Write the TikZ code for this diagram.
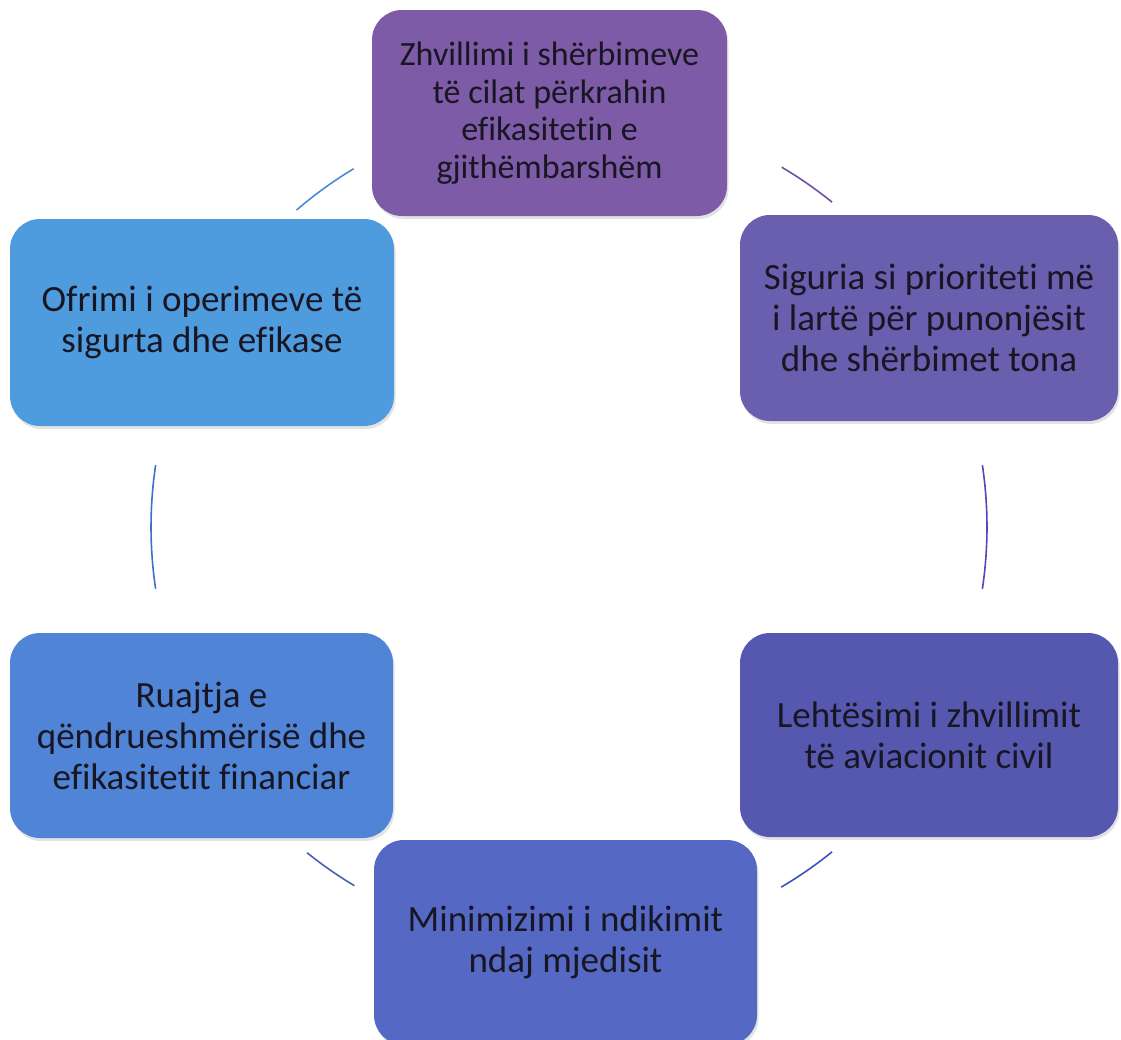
\documentclass[tikz,border=0pt]{standalone}
\usepackage{fontspec}
\setmainfont{Carlito}[Ligatures=NoCommon]
\usetikzlibrary{shadows}
\definecolor{cTop}{RGB}{125,91,166}
\definecolor{cRU}{RGB}{106,95,174}
\definecolor{cRL}{RGB}{86,88,176}
\definecolor{cBot}{RGB}{84,104,196}
\definecolor{cLL}{RGB}{80,132,214}
\definecolor{cLU}{RGB}{78,155,221}
\definecolor{txt}{RGB}{25,22,35}
\definecolor{aTL}{RGB}{70,140,215}
\definecolor{aTR}{RGB}{110,80,160}
\definecolor{aR}{RGB}{80,72,190}
\definecolor{aBR}{RGB}{65,80,190}
\definecolor{aBL}{RGB}{75,95,180}
\definecolor{aL}{RGB}{65,110,205}
\tikzset{
  box/.style={rounded corners=30pt, draw=none, align=center, text=txt,
    font=\fontsize{37}{41}\selectfont, inner sep=0pt,
    drop shadow={opacity=0.22, shadow xshift=1.5pt, shadow yshift=-3pt}},
  smalltext/.style={font=\fontsize{34}{37.5}\selectfont},
  arcline/.style={line width=1.6pt}
}
\begin{document}
\begin{tikzpicture}[x=1pt,y=-1pt]
\useasboundingbox (0,0) rectangle (1121,1039);
\clip (0,0) rectangle (1121,1039);
\coordinate (c) at (569,527);
\node[box, smalltext, fill=cTop, minimum width=355pt, minimum height=206pt] (top) at (549.5,113)
  {Zhvillimi i shërbimeve\\të cilat përkrahin\\efikasitetin e\\gjithëmbarshëm};
\node[box, fill=cRU, minimum width=378pt, minimum height=206pt] (ru) at (929,318)
  {Siguria si prioriteti më\\i lartë për punonjësit\\dhe shërbimet tona};
\node[box, fill=cRL, minimum width=378pt, minimum height=204pt] (rl) at (929,735)
  {Lehtësimi i zhvillimit\\të aviacionit civil};
\node[box, fill=cBot, minimum width=383pt, minimum height=205pt] (bot) at (565.5,942.5)
  {Minimizimi i ndikimit\\ndaj mjedisit};
\node[box, fill=cLL, minimum width=383pt, minimum height=205pt] (ll) at (201.5,735.5)
  {Ruajtja e\\qëndrueshmërisë dhe\\efikasitetit financiar};
\node[box, fill=cLU, minimum width=384pt, minimum height=207pt] (lu) at (202,322.5)
  {Ofrimi i operimeve të\\sigurta dhe efikase};
% connecting arcs (y axis points down, so angles are mirrored)
\draw[arcline, aTR] (c) ++(-59.4:418) arc[start angle=-59.4, end angle=-51, radius=418];
\draw[arcline, aR]  (c) ++(-8.5:418) arc[start angle=-8.5, end angle=8.5, radius=418];
\draw[arcline, aBR] (c) ++(51:418) arc[start angle=51, end angle=59.5, radius=418];
\draw[arcline, aBL] (c) ++(120.9:418) arc[start angle=120.9, end angle=128.8, radius=418];
\draw[arcline, aL]  (c) ++(171.5:418) arc[start angle=171.5, end angle=188.5, radius=418];
\draw[arcline, aTL] (c) ++(229.3:418) arc[start angle=229.3, end angle=239, radius=418];
\end{tikzpicture}
\end{document}
